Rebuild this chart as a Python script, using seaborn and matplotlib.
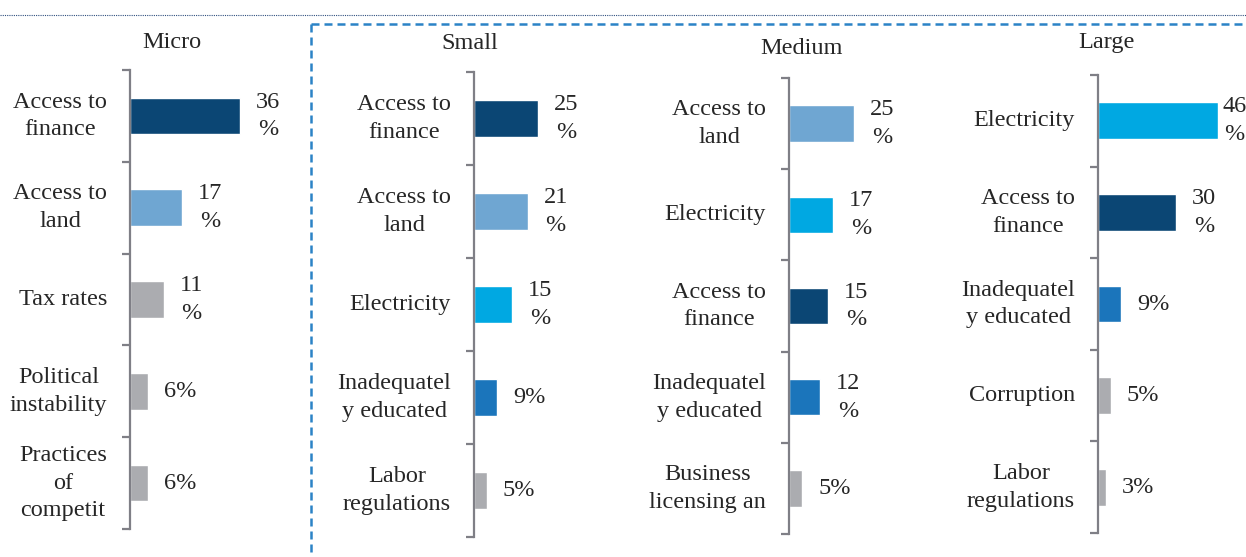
import matplotlib
matplotlib.use("Agg")
import matplotlib.pyplot as plt
from matplotlib.lines import Line2D
import seaborn as sns

sns.set_style("white")
plt.rcParams["font.family"] = ["Liberation Serif", "DejaVu Serif"]

# ---- data -------------------------------------------------------------
micro_cats = ["Access to\nfinance", "Access to\nland", "Tax rates",
              "Political\ninstability", "Practices\nof\ncompetit"]
micro_vals = [36, 17, 11, 6, 6]

small_cats = ["Access to\nfinance", "Access to\nland", "Electricity",
              "Inadequatel\ny educated", "Labor\nregulations"]
small_vals = [25, 21, 15, 9, 5]

medium_cats = ["Access to\nland", "Electricity", "Access to\nfinance",
               "Inadequatel\ny educated", "Business\nlicensing an"]
medium_vals = [25, 17, 15, 12, 5]

large_cats = ["Electricity", "Access to\nfinance", "Inadequatel\ny educated",
              "Corruption", "Labor\nregulations"]
large_vals = [46, 30, 9, 5, 3]

titles = ["Micro", "Small", "Medium", "Large"]

# ---- styling ----------------------------------------------------------
NAVY = "#0B4674"
LIGHT = "#6FA6D2"
CYAN = "#00A8E2"
MID = "#1B75BB"
GRAY = "#ABACB0"
AXIS = "#7F7F86"
TEXT = "#262626"

def bar_color(cat):
    key = cat.replace("\n", " ")
    if key.startswith("Access to finance"):
        return NAVY
    if key.startswith("Access to land"):
        return LIGHT
    if key.startswith("Electricity"):
        return CYAN
    if key.startswith("Inadequatel"):
        return MID
    return GRAY

W, H = 1246, 557
fig = plt.figure(figsize=(W / 100, H / 100), dpi=100)

# panel frames in pixels: left, top, bottom, px per percent, title x, title baseline
panels = [
    (micro_cats, micro_vals, 130, 70, 529, 3.05, 172, 48),
    (small_cats, small_vals, 474, 72, 537, 2.55, 470, 49),
    (medium_cats, medium_vals, 789, 78, 534, 2.60, 802, 54),
    (large_cats, large_vals, 1098, 75, 533, 2.60, 1106, 48),
]

FS = 17.5
LS = 1.42
AX_W = 150      # axes width in px
LABEL_GAP = 16  # px between bar end and value label
LABEL_W = 24    # approx px width of a value label

for (cats, vals, left, top, bottom, scale, tx, ty), title in zip(panels, titles):
    ax = fig.add_axes([left / W, (H - bottom) / H, AX_W / W, (bottom - top) / H])
    colors = [bar_color(c) for c in cats]
    sns.barplot(x=vals, y=cats, hue=cats, palette=colors, legend=False,
                orient="h", width=0.4, saturation=1, ax=ax)
    n = len(cats)
    ax.set_ylim(n - 0.5, -0.5)
    ax.set_xlim(0, AX_W / scale)
    for s in ["top", "right", "bottom"]:
        ax.spines[s].set_visible(False)
    ax.spines["left"].set_color(AXIS)
    ax.spines["left"].set_linewidth(1.6)
    ax.set_xticks([])
    ax.set_yticks([i - 0.5 for i in range(n + 1)])
    ax.set_yticklabels([])
    ax.tick_params(axis="y", direction="out", length=6, width=1.6,
                   color=AXIS, left=True)
    ax.set_xlabel("")
    ax.set_ylabel("")

    for i, (c, v) in enumerate(zip(cats, vals)):
        ax.annotate(c, xy=(0, i), xycoords=("axes fraction", "data"),
                    xytext=(-16.5, 0), textcoords="offset points",
                    ha="right", va="center", multialignment="center",
                    fontsize=FS, color=TEXT, linespacing=LS)
        label = f"{v}\n%" if v >= 10 else f"{v}%"
        # keep the label inside the figure when the bar runs close to the edge
        bar_end_px = left + v * scale
        gap_px = min(LABEL_GAP, W - bar_end_px - LABEL_W)
        ax.annotate(label, xy=(v, i), xycoords="data",
                    xytext=(gap_px * 0.72, 0), textcoords="offset points",
                    ha="left", va="center", multialignment="center",
                    fontsize=FS, color=TEXT, linespacing=LS,
                    annotation_clip=False)

    fig.text(tx / W, 1 - ty / H, title, ha="center", va="baseline",
             fontsize=FS, color=TEXT)

# thin dotted rule across the top
fig.add_artist(Line2D([0, 1], [1 - 14.5 / H] * 2, transform=fig.transFigure,
                      color="#2F4F7F", lw=0.8, linestyle=(0, (1, 1))))

# dashed frame around the Small / Medium / Large panels
dash = dict(transform=fig.transFigure, color="#2B83C6", lw=1.8,
            linestyle=(0, (3.2, 2.0)))
fig.add_artist(Line2D([311 / W, 1.0], [1 - 24 / H] * 2, **dash))
fig.add_artist(Line2D([311 / W] * 2, [1 - 24 / H, 0.0], **dash))

fig.savefig("out.png", dpi=100)
